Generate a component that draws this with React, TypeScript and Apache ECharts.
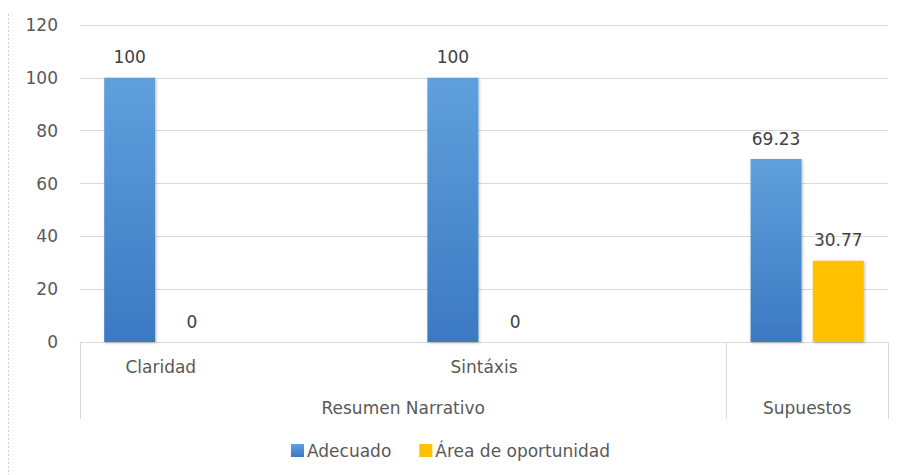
import React, { useEffect, useRef } from "react";
import * as echarts from "echarts";

// Data
const categories = ["Claridad", "", "Sintáxis", "", ""];
const groupLabels = ["Resumen Narrativo", "Supuestos"];
const groupCenters = [2, 4.5]; // in category units on the group axis
const groupBounds = [0, 4, 5];
const adecuado: (number | null)[] = [100, null, 100, null, 69.23];
const oportunidad: (number | null)[] = [0, null, 0, null, 30.77];
const seriesNames = ["Adecuado", "Área de oportunidad"];
const yTicks = { min: 0, max: 120, interval: 20 };

const FONT = "DejaVu Sans";
const TEXT = "#595959";
const LINE = "#d9d9d9";

export default function App() {
  const ref = useRef<HTMLDivElement>(null);
  useEffect(() => {
    if (!ref.current) return;
    const chart = echarts.init(ref.current, null, { renderer: "svg" });
    const blue = new echarts.graphic.LinearGradient(0, 0, 0, 1, [
      { offset: 0, color: "#5fa0dc" },
      { offset: 1, color: "#3b79c2" },
    ]);
    const labelStyle = {
      show: true,
      position: "top",
      distance: 12,
      color: "#404040",
      fontSize: 17,
      fontFamily: FONT,
    };
    chart.setOption({
      animation: false,
      backgroundColor: "#ffffff",
      textStyle: { fontFamily: FONT },
      grid: { left: 80, right: 12, top: 25, bottom: 133, containLabel: false },
      legend: {
        left: 291,
        top: 442,
        padding: 0,
        itemWidth: 13,
        itemHeight: 13,
        itemGap: 28,
        icon: "rect",
        textStyle: { color: TEXT, fontSize: 17, fontFamily: FONT, padding: [0, 0, 0, -2] },
        data: seriesNames,
      },
      xAxis: [
        {
          type: "category",
          data: categories,
          position: "bottom",
          axisLine: { show: true, lineStyle: { color: LINE, width: 1 } },
          axisTick: { show: false },
          axisLabel: { color: TEXT, fontSize: 17, fontFamily: FONT, margin: 16, interval: 0 },
          splitLine: { show: false },
        },
        {
          type: "value",
          min: 0,
          max: 5,
          position: "bottom",
          axisLine: { show: false },
          splitLine: { show: false },
          axisTick: {
            show: true,
            customValues: groupBounds,
            length: 77,
            lineStyle: { color: LINE, width: 1 },
          },
          axisLabel: {
            show: true,
            customValues: groupCenters,
            margin: 57,
            color: TEXT,
            fontSize: 17,
            fontFamily: FONT,
            formatter: (v: number) => {
              const i = groupCenters.indexOf(v);
              return i >= 0 ? groupLabels[i] : "";
            },
          },
        },
      ],
      yAxis: {
        type: "value",
        min: yTicks.min,
        max: yTicks.max,
        interval: yTicks.interval,
        axisLine: { show: false },
        axisTick: { show: false },
        axisLabel: { color: TEXT, fontSize: 17, fontFamily: FONT, margin: 22 },
        splitLine: { lineStyle: { color: LINE, width: 1 } },
      },
      series: [
        {
          name: seriesNames[0],
          type: "bar",
          xAxisIndex: 0,
          data: adecuado,
          barWidth: 51,
          barGap: "22%",
          itemStyle: {
            color: blue,
            shadowBlur: 3,
            shadowColor: "rgba(0,0,0,0.25)",
            shadowOffsetX: 1,
            shadowOffsetY: 1,
          },
          label: labelStyle,
        },
        {
          name: seriesNames[1],
          type: "bar",
          xAxisIndex: 0,
          data: oportunidad,
          barWidth: 51,
          barGap: "22%",
          itemStyle: {
            color: "#ffc000",
            shadowBlur: 3,
            shadowColor: "rgba(0,0,0,0.25)",
            shadowOffsetX: 1,
            shadowOffsetY: 1,
          },
          label: labelStyle,
        },
      ],
      graphic: [
        {
          type: "line",
          shape: { x1: 8.5, y1: 14, x2: 8.5, y2: 475 },
          style: { stroke: "#cfcfcf", lineWidth: 1, lineDash: [2, 2] },
          silent: true,
        },
      ],
    });
    return () => chart.dispose();
  }, []);
  return (
    <div
      ref={ref}
      style={{ position: "absolute", left: 0, top: 0, width: 900, height: 475 }}
    />
  );
}
